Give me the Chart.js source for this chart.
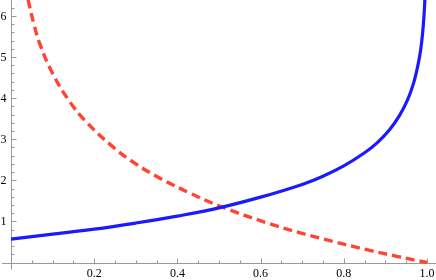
<!DOCTYPE html>
<html>
<head>
<meta charset="utf-8">
<script src="https://cdn.jsdelivr.net/npm/chart.js@4/dist/chart.umd.min.js"></script>
<style>
    body { margin: 0; background: #fff; }
    canvas { display: block; }
</style>
</head>
<body>
<canvas id="plot" width="436" height="280"></canvas>
<script>
// values
const blueX = [0, 0.1, 0.2, 0.3, 0.4, 0.5, 0.6, 0.7, 0.75, 0.8, 0.85, 0.88, 0.91, 0.933, 0.953, 0.967, 0.978, 0.985, 0.9896, 0.9928, 0.9949];
const blueY = [0.57, 0.69, 0.81, 0.96, 1.13, 1.33, 1.59, 1.90, 2.10, 2.35, 2.67, 2.91, 3.23, 3.56, 3.95, 4.34, 4.79, 5.19, 5.60, 6.0, 6.4];

const redX = [0.041, 0.055, 0.07, 0.1, 0.14, 0.18, 0.25, 0.3, 0.36, 0.43, 0.5, 0.62, 0.74, 0.86, 0.93, 1.0];
const redY = [6.4, 5.80, 5.30, 4.6, 3.93, 3.43, 2.77, 2.40, 2.04, 1.69, 1.38, 0.95, 0.60, 0.30, 0.145, 0.0];

const xTickLabels = ["0.2", "0.4", "0.6", "0.8", "1.0"];
const yTickLabels = ["1", "2", "3", "4", "5", "6"];

function points(xs, ys) {
    return xs.map((x, i) => ({ x: x, y: ys[i] }));
}

// Mathematica-style axes crossing at the origin, ticks pointing inward
const axesPlugin = {
    id: "axes",
    beforeDatasetsDraw(chart) {
        const ctx = chart.ctx;
        const xs = chart.scales.x;
        const ys = chart.scales.y;
        const ox = Math.round(xs.getPixelForValue(0)) + 0.5;
        const oy = Math.round(ys.getPixelForValue(0)) + 0.5;

        ctx.save();
        ctx.strokeStyle = "#999";
        ctx.lineWidth = 1;
        ctx.beginPath();
        ctx.moveTo(2, oy);
        ctx.lineTo(chart.width, oy);
        ctx.moveTo(ox, 0);
        ctx.lineTo(ox, oy + 6);

        // x ticks
        for (let i = 1; i <= 20; i++) {
            const v = i * 0.05;
            const px = Math.round(xs.getPixelForValue(v)) + 0.5;
            const len = i % 4 === 0 ? 5 : 3;
            ctx.moveTo(px, oy);
            ctx.lineTo(px, oy - len);
        }
        // y ticks
        for (let i = 1; i <= 31; i++) {
            const v = i * 0.2;
            const py = Math.round(ys.getPixelForValue(v)) + 0.5;
            const len = i % 5 === 0 ? 5 : 3;
            ctx.moveTo(ox, py);
            ctx.lineTo(ox + len, py);
        }
        ctx.stroke();

        ctx.fillStyle = "#000";
        ctx.font = "12px 'Liberation Serif', 'Times New Roman', serif";
        ctx.textBaseline = "alphabetic";
        ctx.textAlign = "center";
        xTickLabels.forEach(label => {
            ctx.fillText(label, xs.getPixelForValue(parseFloat(label)), oy + 13.5);
        });
        ctx.textAlign = "right";
        yTickLabels.forEach(label => {
            ctx.fillText(label, ox - 5, ys.getPixelForValue(parseFloat(label)) + 4);
        });
        ctx.restore();
    }
};

new Chart(document.getElementById("plot"), {
    type: "line",
    data: {
        datasets: [
            {
                data: points(blueX, blueY),
                borderColor: "#1a1aff",
                borderWidth: 3.2,
                tension: 0.4
            },
            {
                data: points(redX, redY),
                borderColor: "#ff4433",
                borderWidth: 3.4,
                borderDash: [9, 5],
                tension: 0.4
            }
        ]
    },
    options: {
        responsive: false,
        animation: false,
        layout: { padding: 0 },
        elements: { point: { radius: 0 } },
        plugins: {
            legend: { display: false },
            tooltip: { enabled: false }
        },
        scales: {
            x: { type: "linear", display: false, min: -11 / 416, max: 425 / 416 },
            y: { type: "linear", display: false, min: -17.5 / 41.1, max: 262.5 / 41.1 }
        }
    },
    plugins: [axesPlugin]
});
</script>
</body>
</html>
